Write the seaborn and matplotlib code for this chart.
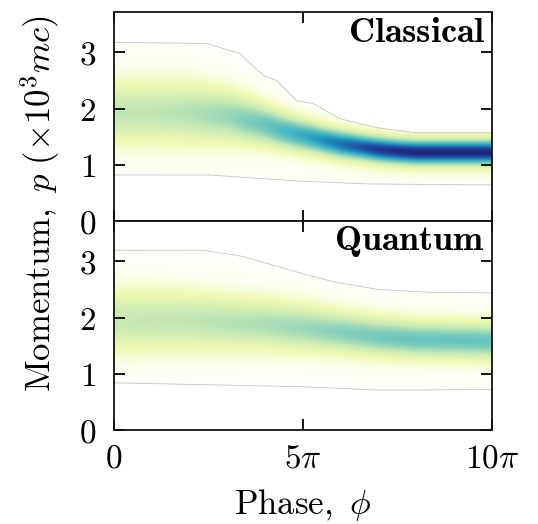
import numpy as np
import matplotlib
matplotlib.use("Agg")
import matplotlib.pyplot as plt
from matplotlib.colors import ListedColormap
import seaborn as sns
import pandas as pd

# ---------------- data (phase in units of pi) ----------------
# Classical: ridge of the momentum distribution
cl_phase = [0, 1, 2, 3, 3.5, 4, 4.5, 5, 5.5, 6, 6.5, 7, 7.5, 8, 10]
cl_center = [1.93, 1.93, 1.92, 1.87, 1.79, 1.71, 1.60, 1.52, 1.44, 1.37, 1.32, 1.27, 1.24, 1.22, 1.22]
cl_peak = [0.23, 0.23, 0.25, 0.29, 0.33, 0.37, 0.42, 0.47, 0.54, 0.62, 0.69, 0.76, 0.80, 0.82, 0.82]
cl_width = [0.37, 0.37, 0.36, 0.31, 0.27, 0.23, 0.20, 0.18, 0.16, 0.15, 0.14, 0.135, 0.13, 0.13, 0.13]
# Classical: extent of the distribution
cl_up_phase = [0, 2.45, 3.33, 3.95, 4.3, 4.84, 5.27, 5.98, 6.96, 8, 10]
cl_upper = [3.18, 3.16, 2.98, 2.59, 2.50, 2.14, 2.09, 1.82, 1.66, 1.57, 1.57]
cl_lo_phase = [0, 2.5, 4.9, 6.7, 10]
cl_lower = [0.82, 0.82, 0.71, 0.66, 0.64]

# Quantum
qu_phase = [0, 2, 4, 5, 6, 7, 8, 10]
qu_center = [1.95, 1.94, 1.88, 1.82, 1.74, 1.66, 1.61, 1.58]
qu_peak = [0.22, 0.23, 0.26, 0.29, 0.32, 0.35, 0.37, 0.37]
qu_width = [0.37, 0.35, 0.30, 0.27, 0.24, 0.22, 0.21, 0.21]
qu_up_phase = [0, 2.35, 3.4, 4.9, 5.8, 7.0, 8.4, 10]
qu_upper = [3.20, 3.20, 3.09, 2.80, 2.64, 2.50, 2.45, 2.44]
qu_lo_phase = [0, 5, 7, 10]
qu_lower = [0.84, 0.77, 0.71, 0.72]

x_ticks = [0, 5, 10]
x_ticklabels = [r"$0$", r"$5\pi$", r"$10\pi$"]
y_ticks = [0, 1, 2, 3]
y_ticklabels = [r"$0$", r"$1$", r"$2$", r"$3$"]
panel_titles = [r"$\mathbf{Classical}$", r"$\mathbf{Quantum}$"]

# ---------------- style ----------------
sns.set_theme(style="ticks")
plt.rcParams["mathtext.fontset"] = "cm"
plt.rcParams["font.family"] = ["DejaVu Serif"]
plt.rcParams["text.color"] = "black"
plt.rcParams["xtick.color"] = "black"
plt.rcParams["ytick.color"] = "black"
plt.rcParams["xtick.labelcolor"] = "black"
plt.rcParams["ytick.labelcolor"] = "black"

PMAX = 3.72
FS = 24
base = sns.color_palette("YlGnBu", as_cmap=True)
vals = np.linspace(0, 1, 256)
cols = base(vals)
blend = np.clip(vals / 0.1, 0, 1)[:, None]
cols[:, :3] = 1 - blend * (1 - cols[:, :3])
cmap = ListedColormap(cols)
cmap.set_bad("white")


def density(phase_k, center_k, peak_k, width_k, up_ph, up, lo_ph, lo):
    ph = np.linspace(0, 10, 500)
    p = np.linspace(0, PMAX, 500)
    c = np.interp(ph, phase_k, center_k)
    a = np.interp(ph, phase_k, peak_k)
    s = np.interp(ph, phase_k, width_k)
    d = p[:, None] - c[None, :]
    z = a * np.exp(-0.5 * (d / s) ** 2) + 0.14 * a * np.exp(-0.5 * (d / (2.6 * s)) ** 2)
    ub = np.interp(ph, up_ph, up)
    lb = np.interp(ph, lo_ph, lo)
    mask = (p[:, None] > ub[None, :]) | (p[:, None] < lb[None, :])
    z = np.where(mask, np.nan, z)
    return z


fig = plt.figure(figsize=(5.38, 5.24), dpi=100)
left, right = 114 / 538, 492 / 538
top, bottom = 1 - 12 / 524, 1 - 430 / 524
h = (top - bottom) / 2
ax1 = fig.add_axes([left, bottom + h, right - left, h])
ax2 = fig.add_axes([left, bottom, right - left, h], sharex=ax1)

panels = [
    (ax1, cl_phase, cl_center, cl_peak, cl_width, cl_up_phase, cl_upper, cl_lo_phase, cl_lower),
    (ax2, qu_phase, qu_center, qu_peak, qu_width, qu_up_phase, qu_upper, qu_lo_phase, qu_lower),
]

for i, (ax, ph, c, a, w, uph, up, lph, lo) in enumerate(panels):
    z = density(ph, c, a, w, uph, up, lph, lo)
    ax.imshow(z, origin="lower", extent=[0, 10, 0, PMAX], aspect="auto",
              cmap=cmap, vmin=0, vmax=1, interpolation="bilinear")
    sns.lineplot(x=uph, y=up, ax=ax, color="#c4c4c4", lw=0.6)
    sns.lineplot(x=lph, y=lo, ax=ax, color="#c4c4c4", lw=0.6)
    ax.set_xlim(0, 10)
    ax.set_ylim(0, PMAX)
    ax.set_xticks(x_ticks)
    ax.set_yticks(y_ticks)
    ax.set_yticklabels(y_ticklabels, fontsize=FS)
    ax.tick_params(direction="in", top=True, right=True, length=8, width=1.3,
                   pad=13, colors="black")
    for sp in ax.spines.values():
        sp.set_linewidth(1.3)
        sp.set_color("#111111")
    ax.set_xlabel("")
    ax.set_ylabel("")
    ax.text(0.982, 0.985, panel_titles[i], transform=ax.transAxes,
            ha="right", va="top", fontsize=26, color="black")

ax1.tick_params(labelbottom=False)
ax2.set_xticklabels(x_ticklabels, fontsize=FS)
ax2.tick_params(axis="x", pad=9)

fig.text(0.5 * (left + right), 1 - 505 / 524, r"$\mathrm{Phase,}\ \phi$",
         ha="center", va="center", fontsize=25, color="black")
fig.text(0.074, 0.612, r"$\mathrm{Momentum,}\ p\ (\times 10^3 mc)$",
         ha="center", va="center", rotation=90, fontsize=25, color="black")

fig.savefig("out.png", dpi=100)
